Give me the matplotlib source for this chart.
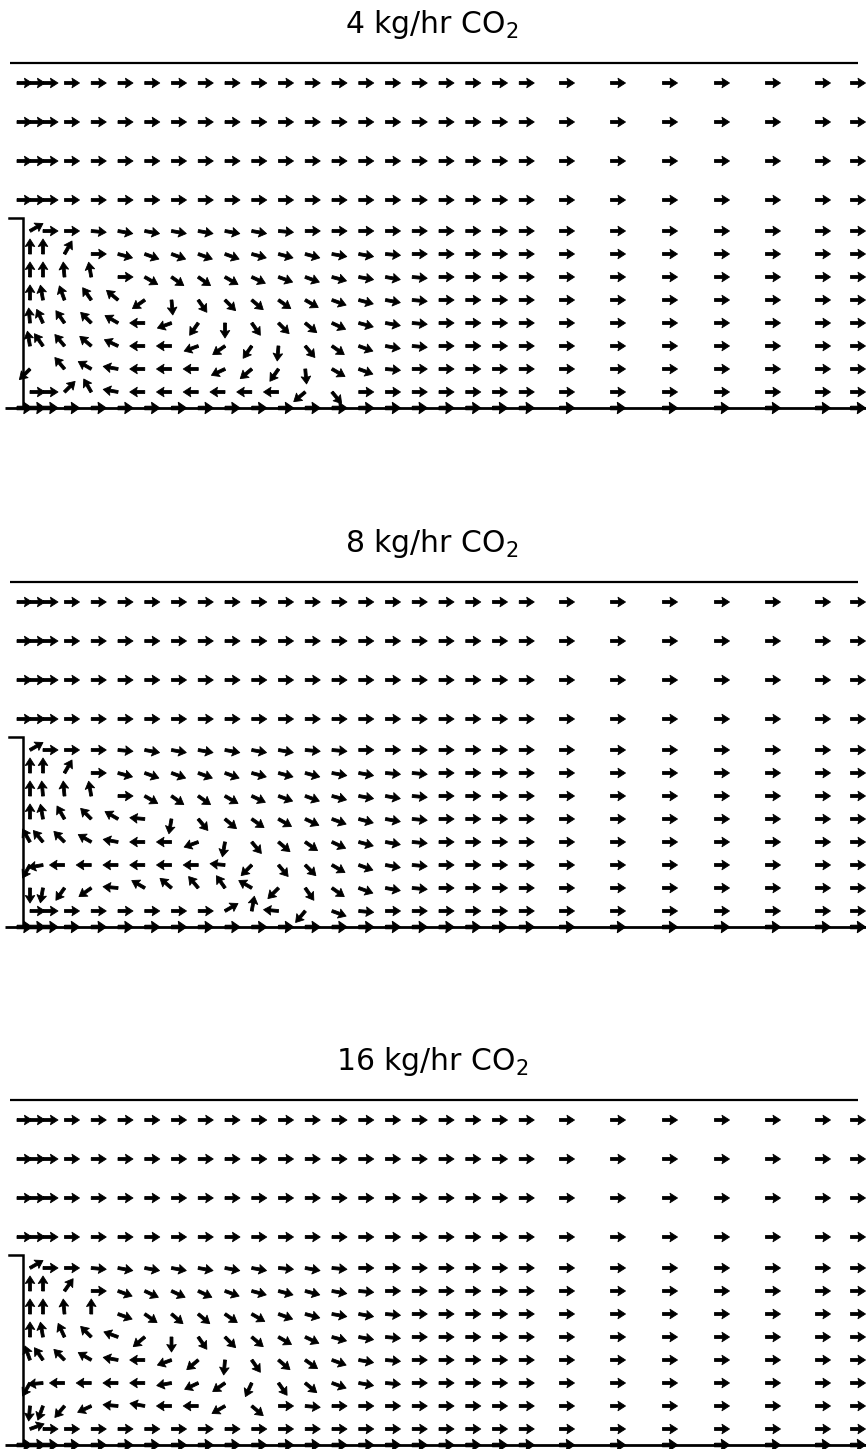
import numpy as np
import matplotlib
matplotlib.use("Agg")
import matplotlib.pyplot as plt

# ---------------- data ----------------
titles = ["4 kg/hr CO$_2$", "8 kg/hr CO$_2$", "16 kg/hr CO$_2$"]

# measurement stations: distance from the step wall (x) and height above floor (y)
x_nodes = [-6, 7, 20, 41.5, 68.25, 95, 121.75, 148.5, 175.25, 202, 228.75,
           255.5, 282.25, 309, 335.75, 362.5, 389.25, 416, 442.75, 469.5,
           496.25, 536.5, 587.5, 639.5, 691.5, 742.5, 792.5, 827.5]
y_nodes = [325, 286, 247, 208, 177, 154, 131, 108, 85, 62, 39, 16, 0]
wall_height = 190
channel_height = 345

# flow direction (deg) in recirculation zone: rows y=177..16, stations x=7..389
# (all other stations read as 0 deg, i.e. straight downstream)
nan = np.nan
dir_4kg = [
    [30, 0, 0, -5, -10, -10, -10, -10, -10, -10, -5, 0, 0, 0, 0, 0],
    [90, 90, 60, 0, -15, -20, -20, -20, -20, -15, -15, -15, -10, -10, -5, 0],
    [90, 90, 95, 100, 0, -30, -35, -35, -30, -25, -20, -20, -15, -10, -10, -5],
    [90, 100, 110, 125, 140, -145, -85, -55, -45, -40, -35, -30, -20, -15, -10, -5],
    [95, 115, 125, 135, 150, 180, -160, -125, -90, -55, -45, -40, -25, -15, -10, -5],
    [100, 125, 130, 140, 155, 180, 180, -160, -145, -125, -95, -50, -35, -20, -10, -5],
    [-135, nan, 130, 150, 170, 180, 180, 180, -155, -140, -125, -85, -30, -20, -5, 0],
    [0, 0, 45, 120, 170, 180, 180, 180, 180, 180, 180, -140, -50, 0, 0, 0],
]
dir_8kg = [
    [30, 0, 0, 0, -5, -10, -10, -10, -10, -10, -10, -5, -5, 0, 0, 0],
    [90, 90, 60, 0, -15, -20, -20, -20, -20, -15, -15, -15, -10, -10, -5, -5],
    [90, 95, 95, 100, 0, -30, -35, -35, -30, -25, -20, -20, -15, -10, -10, -5],
    [90, 100, 120, 135, 150, 175, -100, -50, -40, -35, -30, -25, -20, -15, -10, -5],
    [120, 130, 135, 150, 170, 180, 180, -160, -100, -50, -40, -35, -25, -15, -10, -5],
    [-120, -170, 180, 180, 180, 180, 180, 180, 175, -135, -50, -45, -30, -20, -10, -5],
    [-90, -100, -125, -145, 175, 150, 140, 130, 125, 150, -135, -55, -35, -20, -10, -5],
    [0, 0, 0, 0, 0, 0, 0, 0, 30, 80, 175, -130, -20, -5, 0, 0],
]
dir_16kg = [
    [30, 0, 0, -5, -10, -10, -10, -10, -10, -10, -5, -10, -5, 0, 0, 0],
    [90, 90, 55, 0, -20, -25, -25, -25, -20, -15, -15, -15, -10, -5, 0, 0],
    [90, 90, 95, 90, -20, -35, -40, -40, -35, -30, -20, -15, -10, -10, -5, 0],
    [90, 100, 115, 135, 160, -140, -90, -55, -45, -40, -30, -25, -15, -10, -5, 0],
    [110, 125, 135, 150, 170, 180, -160, -140, -95, -55, -40, -35, -20, -10, -5, 0],
    [-120, -175, 180, 180, 180, 180, -170, -155, -145, -115, -55, -40, -20, -10, -5, 0],
    [-95, -110, -130, -155, 175, 170, 180, 180, -150, -40, 0, -5, 0, 0, 0, 0],
    [20, 0, 0, 0, 0, 0, 0, 0, 0, 0, 0, 0, 0, 0, 0, 0],
]
panels = [dir_4kg, dir_8kg, dir_16kg]

# ---------------- layout ----------------
W, H = 866, 1449
floor_px = [408, 927, 1445]   # figure pixel row of each panel's floor line

fig = plt.figure(figsize=(W / 100, H / 100), dpi=100)
fig.patch.set_facecolor("white")

X, Y = np.meshgrid(np.array(x_nodes, float), np.array(y_nodes, float))
nrow, ncol = X.shape

for title, cav, fp in zip(titles, panels, floor_px):
    ax = fig.add_axes([0, (H - (fp + 10)) / H, 1, 410 / H])
    ax.set_xlim(-23, W - 23)
    ax.set_ylim(-10, 400)
    ax.axis("off")

    ang = np.zeros((nrow, ncol))
    cav = np.array(cav, float)
    ang[4:12, 1:1 + cav.shape[1]] = cav
    ang[4:12, 0] = np.nan          # stations behind the step wall
    rad = np.deg2rad(ang)
    U = np.ma.masked_invalid(np.cos(rad))
    V = np.ma.masked_invalid(np.sin(rad))

    # interior stations
    ax.quiver(X[:-1], Y[:-1], U[:-1], V[:-1], angles="xy", scale_units="xy",
              scale=1 / 15.0, pivot="tail", units="xy", width=2.9,
              headwidth=3.3, headlength=2.6, headaxislength=2.3,
              color="black", edgecolor="black", linewidth=0.6, zorder=3)
    # floor stations (drawn heavier, sitting on the floor line)
    ax.quiver(X[-1], Y[-1], U[-1], V[-1], angles="xy", scale_units="xy",
              scale=1 / 15.0, pivot="tail", units="xy", width=3.4,
              headwidth=3.3, headlength=2.4, headaxislength=2.2,
              color="black", edgecolor="black", linewidth=0.8, zorder=3)

    # channel walls
    ax.plot([-13, 835], [channel_height, channel_height], color="black", lw=1.6,
            solid_capstyle="butt")
    ax.plot([-18, W - 23], [0, 0], color="black", lw=2.0, solid_capstyle="butt")
    ax.plot([-14, 0, 0], [wall_height, wall_height, 0], color="black", lw=1.8,
            solid_joinstyle="miter")

    ax.text(409, 375, title, ha="center", va="baseline", fontsize=21.5,
            family="DejaVu Sans")

fig.savefig("out.png", dpi=100, facecolor="white")
